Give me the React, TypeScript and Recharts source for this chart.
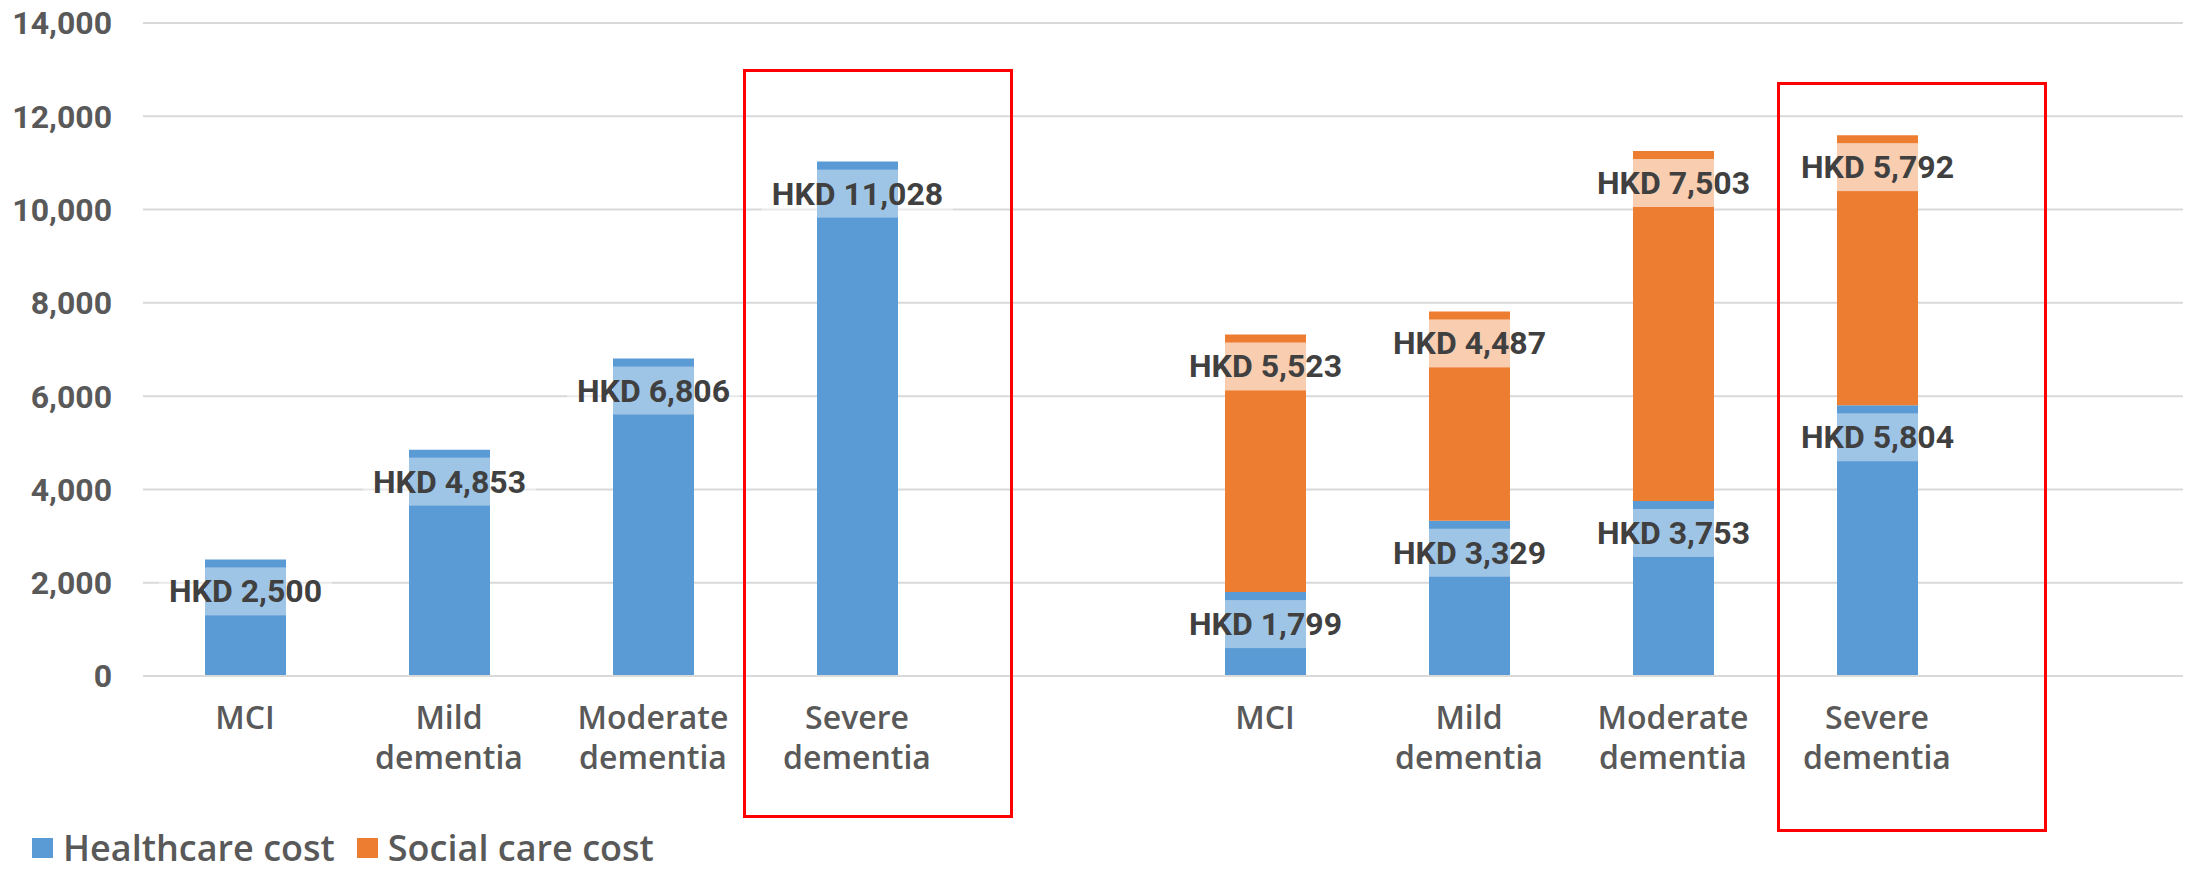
import React from 'react';
import { BarChart, Bar, XAxis, YAxis, CartesianGrid, LabelList, Legend } from 'recharts';

// ---- data ----
const categories: string[] = [
  'MCI', 'Mild\ndementia', 'Moderate\ndementia', 'Severe\ndementia', '',
  'MCI', 'Mild\ndementia', 'Moderate\ndementia', 'Severe\ndementia', '',
];
const healthcareCost: (number | null)[] = [2500, 4853, 6806, 11028, null, 1799, 3329, 3753, 5804, null];
const socialCareCost: (number | null)[] = [null, null, null, null, null, 5523, 4487, 7503, 5792, null];
const yTicks: number[] = [0, 2000, 4000, 6000, 8000, 10000, 12000, 14000];
const seriesNames = { healthcare: 'Healthcare cost', social: 'Social care cost' };
const seriesColors = { healthcare: '#5B9BD5', social: '#ED7D31' };

const data = categories.map((name, i) => ({
  name,
  healthcare: healthcareCost[i],
  social: socialCareCost[i],
}));

const LABEL_FONT = '700 32px Roboto';
let measureCtx: CanvasRenderingContext2D | null = null;
function measureText(text: string, font: string): number {
  if (typeof document === 'undefined') return text.length * 17;
  if (!measureCtx) measureCtx = document.createElement('canvas').getContext('2d');
  if (!measureCtx) return text.length * 17;
  measureCtx.font = font;
  return measureCtx.measureText(text).width;
}

const makeLabel = (bgOpacity: number) => (props: any) => {
  const { x, y, width, value } = props;
  if (value === null || value === undefined || value === 0) return null;
  const text = `HKD ${Number(value).toLocaleString('en-US')}`;
  const cx = Number(x) + Number(width) / 2;
  const top = Number(y);
  const tw = measureText(text, LABEL_FONT);
  const boxW = tw + 20;
  return (
    <g>
      <rect x={cx - boxW / 2} y={top + 8} width={boxW} height={48} fill="#FFFFFF" fillOpacity={bgOpacity} />
      <text
        x={cx}
        y={top + 32}
        textAnchor="middle"
        dominantBaseline="central"
        style={{ font: LABEL_FONT, fill: '#404040' }}
      >
        {text}
      </text>
    </g>
  );
};

const CategoryTick = (props: any) => {
  const { x, y, payload } = props;
  const lines = String(payload?.value ?? '').split('\n');
  return (
    <g>
      {lines.map((ln, i) => (
        <text
          key={i}
          x={x}
          y={Number(y) + 53 + i * 39.5}
          textAnchor="middle"
          style={{ fontFamily: '"Open Sans", sans-serif', fontWeight: 600, fontSize: 32, fill: '#595959' }}
        >
          {ln}
        </text>
      ))}
    </g>
  );
};

const LegendContent = (props: any) => {
  const items = props.payload || [];
  return (
    <div style={{ display: 'flex', alignItems: 'center', paddingLeft: 32, height: 40 }}>
      {items.map((it: any, i: number) => (
        <div key={i} style={{ display: 'flex', alignItems: 'center', marginRight: 22 }}>
          <div style={{ width: 21, height: 20, background: it.color, marginRight: 10 }} />
          <span
            style={{
              fontFamily: '"Open Sans", sans-serif',
              fontWeight: 600,
              fontSize: 36,
              lineHeight: '30px',
              color: '#595959',
              whiteSpace: 'nowrap',
            }}
          >
            {it.value}
          </span>
        </div>
      ))}
    </div>
  );
};

const redBox = (left: number, top: number, width: number, height: number): React.CSSProperties => ({
  position: 'absolute',
  left,
  top,
  width,
  height,
  border: '3px solid #FF0000',
  boxSizing: 'border-box',
  pointerEvents: 'none',
});

export default function App() {
  return (
    <div style={{ position: 'relative', width: 2188, height: 875, background: '#FFFFFF', overflow: 'hidden' }}>
      <style>{'body{margin:0;background:#fff;}'}</style>
      <BarChart
        width={2188}
        height={875}
        data={data}
        margin={{ top: 23, right: 5, bottom: 139, left: 0 }}
        barSize={81}
      >
        <CartesianGrid vertical={false} stroke="#D9D9D9" strokeWidth={2} />
        <XAxis
          dataKey="name"
          interval={0}
          tickLine={false}
          tickSize={0}
          tickMargin={0}
          height={60}
          axisLine={{ stroke: '#D9D9D9', strokeWidth: 2 }}
          tick={<CategoryTick />}
        />
        <YAxis
          width={143}
          domain={[0, 14000]}
          ticks={yTicks}
          axisLine={false}
          tickLine={false}
          tickSize={0}
          tickMargin={31}
          tickFormatter={(v: number) => v.toLocaleString('en-US')}
          tick={{ fill: '#595959', fontFamily: 'Roboto', fontWeight: 700, fontSize: 32 }}
        />
        <Legend
          layout="horizontal"
          align="center"
          verticalAlign="middle"
          wrapperStyle={{ left: 0, top: 828, width: 900, height: 40 }}
          content={<LegendContent />}
        />
        <Bar
          dataKey="healthcare"
          name={seriesNames.healthcare}
          stackId="cost"
          fill={seriesColors.healthcare}
          isAnimationActive={false}
        >
          <LabelList dataKey="healthcare" content={makeLabel(0.42)} />
        </Bar>
        <Bar
          dataKey="social"
          name={seriesNames.social}
          stackId="cost"
          fill={seriesColors.social}
          isAnimationActive={false}
        >
          <LabelList dataKey="social" content={makeLabel(0.62)} />
        </Bar>
      </BarChart>
      <div style={redBox(743, 69, 270, 749)} />
      <div style={redBox(1777, 82, 270, 750)} />
    </div>
  );
}
